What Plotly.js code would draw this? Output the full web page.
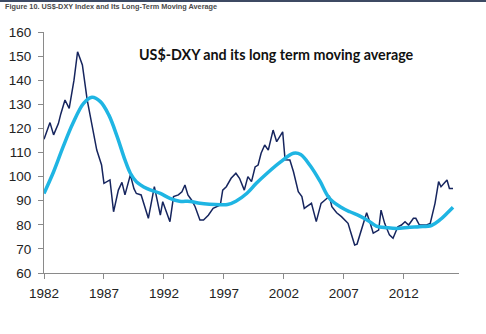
<!DOCTYPE html>
<html>
<head>
<meta charset="utf-8">
<script src="https://cdn.plot.ly/plotly-3.0.1.min.js"></script>
<style>
html,body{margin:0;padding:0;background:#fff;}
#chart{width:486px;height:334px;position:relative;}
#topline{position:absolute;left:0;top:0;width:486px;height:2px;background:#3d4a63;z-index:10;}
</style>
</head>
<body>
<div id="topline"></div>
<div id="chart"></div>
<script>
// US$-DXY index (approximate readings)
const dxyYears = [1982.0,1982.5,1982.8,1983.2,1983.4,1983.75,1984.1,1984.5,1984.8,1985.2,1985.6,1986.0,1986.4,1986.8,1987.0,1987.5,1987.8,1988.2,1988.5,1988.75,1989.2,1989.5,1989.7,1990.1,1990.7,1991.2,1991.7,1991.9,1992.5,1992.8,1993.2,1993.5,1993.75,1994.0,1994.3,1994.6,1995.0,1995.3,1995.7,1996.1,1996.7,1996.9,1997.2,1997.6,1998.0,1998.3,1998.7,1999.0,1999.3,1999.6,1999.85,2000.1,2000.4,2000.7,2001.1,2001.4,2001.9,2002.1,2002.5,2002.8,2003.2,2003.5,2003.7,2003.9,2004.3,2004.7,2005.1,2005.6,2005.8,2006.0,2006.4,2006.8,2007.35,2007.6,2007.9,2008.1,2008.5,2008.9,2009.2,2009.45,2009.9,2010.1,2010.4,2010.8,2011.1,2011.5,2011.8,2012.1,2012.4,2012.8,2013.0,2013.3,2013.9,2014.2,2014.6,2014.9,2015.1,2015.6,2015.8,2016.1];
const dxyValues = [115.5,122.4,117.3,122,126,131.8,128.3,140,151.8,146.3,131.8,120.7,111,104.8,97.2,98.6,85.4,94.4,97.6,92.4,100.7,95,93,92.4,82.7,95.8,84,89.6,81.3,91.7,92.4,93.7,96.5,92.4,90.3,87.5,82,82,84,86.8,88.2,94.4,95.8,99.3,101.4,99.3,94.4,100,97.9,104,104.8,109.7,113.1,111,119.3,114.5,118.6,107,106.9,102,93.7,91.7,86.8,87.5,88.9,81.3,88.9,91,91.7,87.5,85,83.4,80.6,76.5,71.6,72,78.8,85,80.6,76.5,77.8,86.1,80.6,75.8,74.4,79.2,79.9,81.3,79.9,82.7,82.7,79.9,79.9,80.6,88.9,97.9,95.8,98.6,95.1,95.1];

// Long-term moving average (approximate readings)
const maYears = [1982.0,1982.8,1983.6,1984.4,1985.3,1986.0,1986.7,1987.4,1988.1,1988.75,1989.2,1989.7,1990.6,1991.7,1992.5,1993.3,1994.2,1995.0,1995.8,1996.7,1997.3,1998.0,1998.9,1999.7,2000.6,2001.7,2002.8,2003.4,2004.2,2005.0,2005.8,2006.8,2007.5,2008.3,2009.0,2009.7,2010.6,2011.4,2012.5,2013.3,2014.3,2015.0,2015.6,2016.1];
const maValues = [93,102,112.4,122,130.4,132.9,131.1,125.6,116.6,106.9,101.4,97.9,95,93,91,89.8,89.7,88.9,88.5,88.3,88.4,89.8,93,97.2,101.4,106,109.7,109.2,104.5,98.2,91,87.2,85.4,83.7,81.8,79.5,78.8,78.5,79,79.2,79.7,82,84.8,87.3];

const xTicks = [1982,1987,1992,1997,2002,2007,2012];
const yTicks = [60,70,80,90,100,110,120,130,140,150,160];

const figTitle = 'Figure 10. US$-DXY Index and Its Long-Term Moving Average';
const chartLabel = 'US$-DXY and its long term moving average';

const traces = [
  {x: dxyYears, y: dxyValues, type:'scatter', mode:'lines', name:'US$-DXY',
   line:{color:'#16255e', width:1.5}},
  {x: maYears, y: maValues, type:'scatter', mode:'lines', name:'Moving average',
   line:{color:'#1fb5e3', width:3.5, shape:'spline', smoothing:1}}
];

const axisFont = {family:'Liberation Sans, Arial, sans-serif', size:13.5, color:'#222'};

const layout = {
  width:486, height:334,
  margin:{l:44, r:27, t:32, b:61, pad:0},
  paper_bgcolor:'#fff', plot_bgcolor:'#fff',
  showlegend:false,
  xaxis:{range:[1982,2016.6], tickvals:xTicks, ticktext:xTicks.map(String),
    showgrid:false, zeroline:false, showline:true, linecolor:'#8a8a8a', linewidth:1,
    ticks:'outside', ticklen:5, tickcolor:'#8a8a8a', tickfont:axisFont, ticklabelstandoff:3},
  yaxis:{range:[60,160], tickvals:yTicks, ticktext:yTicks.map(String),
    showgrid:false, zeroline:false, showline:true, linecolor:'#8a8a8a', linewidth:1,
    ticks:'outside', ticklen:5, tickcolor:'#8a8a8a', tickfont:axisFont, ticklabelstandoff:4},
  annotations:[
    {text:'<b>'+figTitle+'</b>', xref:'paper', yref:'paper', x:-41/415, y:(273-7)/241,
     xanchor:'left', yanchor:'middle', showarrow:false,
     font:{family:'Liberation Sans Narrow, Arial Narrow, Liberation Sans, sans-serif', size:7.3, color:'#4a4a4a'}},
    {text:'<b>'+chartLabel+'</b>', xref:'paper', yref:'paper', x:(137-44)/415, y:(273-54)/241,
     xanchor:'left', yanchor:'middle', showarrow:false,
     font:{family:'Lato, Open Sans, sans-serif', size:14.3, color:'#111'}}
  ]
};

Plotly.newPlot('chart', traces, layout, {displayModeBar:false, staticPlot:true});
</script>
</body>
</html>
